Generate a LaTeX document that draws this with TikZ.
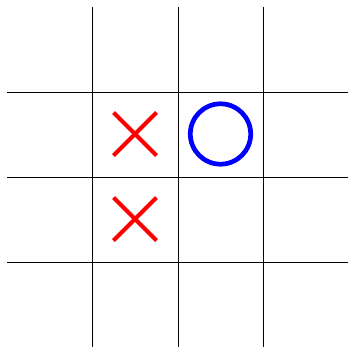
\documentclass[tikz,border=0pt]{standalone}
\begin{document}
\begin{tikzpicture}[x=1pt, y=-1pt]
\useasboundingbox (0,0) rectangle (348,348);
\foreach \p in {92.5,178,263.5}{\draw[line width=1pt] (\p,7) -- (\p,347);}
\foreach \p in {92,177,262.5}{\draw[line width=1pt] (7,\p) -- (348,\p);}
\foreach \x/\y in {135/134,135/219}{
  \draw[red, line width=4.2pt] (\x-21.5,\y-21.5) -- (\x+21.5,\y+21.5);
  \draw[red, line width=4.2pt] (\x-21.5,\y+21.5) -- (\x+21.5,\y-21.5);}
\draw[blue, line width=4.7pt] (220.5,134) circle (30.2);
\end{tikzpicture}
\end{document}
